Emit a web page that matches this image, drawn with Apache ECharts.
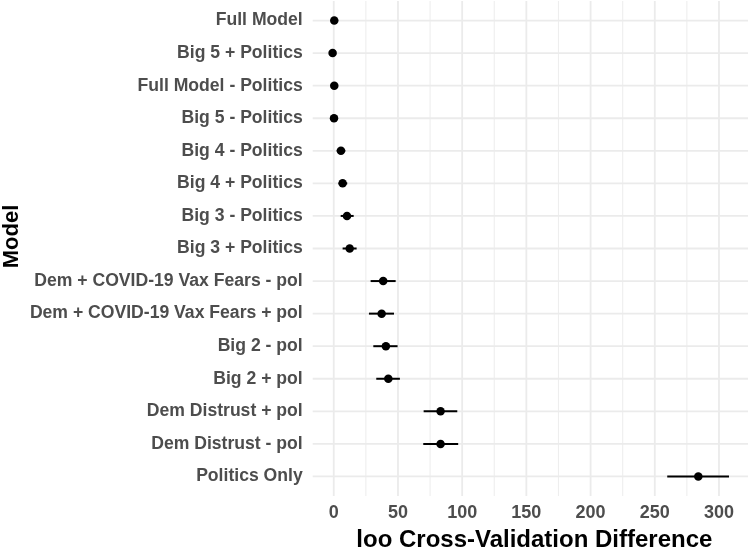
<!DOCTYPE html>
<html>
<head>
<meta charset="utf-8">
<script src="https://cdn.jsdelivr.net/npm/echarts@6/dist/echarts.min.js"></script>
<style>
html,body{margin:0;padding:0;background:#fff;}
#chart{width:750px;height:548px;}
</style>
</head>
<body>
<div id="chart"></div>
<script>
const categories = [
  "Full Model",
  "Big 5 + Politics",
  "Full Model - Politics",
  "Big 5 - Politics",
  "Big 4 - Politics",
  "Big 4 + Politics",
  "Big 3 - Politics",
  "Big 3 + Politics",
  "Dem + COVID-19 Vax Fears - pol",
  "Dem + COVID-19 Vax Fears + pol",
  "Big 2 - pol",
  "Big 2 + pol",
  "Dem Distrust + pol",
  "Dem Distrust - pol",
  "Politics Only"
];
const estimates = [0.4, -0.9, 0.4, 0.2, 5.6, 6.9, 10.3, 12.4, 38.5, 37.3, 40.6, 42.5, 83.2, 83.2, 283.9];
const lower     = [-1.5, -2.8, -1.6, -1.8, 2.3, 3.8, 5.4, 6.9, 28.7, 27.4, 30.8, 33.1, 70.0, 69.7, 259.7];
const upper     = [2.3, 1.0, 2.4, 2.2, 9.0, 10.5, 15.5, 17.8, 48.2, 46.9, 49.7, 51.5, 96.2, 96.9, 307.8];
const xTicks = [0, 50, 100, 150, 200, 250, 300];
const xMinorTicks = [25, 75, 125, 175, 225, 275];

const rowIndex = categories.map((c, i) => i + 1);
const font = "'Liberation Sans', Arial, sans-serif";

// grid line items: [kind, value, isMajor]
const gridItems = [
  ...xMinorTicks.map(v => ['x', v, 0]),
  ...xTicks.map(v => ['x', v, 1]),
  ...rowIndex.map(v => ['y', v, 1])
];

const chart = echarts.init(document.getElementById('chart'), null, {renderer: 'canvas'});
chart.setOption({
  animation: false,
  backgroundColor: '#ffffff',
  grid: {left: 312.7, right: 2, top: 1, bottom: 52, containLabel: false, outerBoundsMode: 'none'},
  xAxis: {
    type: 'value',
    min: -16.4,
    max: 322.6,
    name: 'loo Cross-Validation Difference',
    nameLocation: 'middle',
    nameGap: 32,
    nameMoveOverlap: false,
    nameTextStyle: {color: '#000', fontSize: 24, fontWeight: 'bold', fontFamily: font, padding: [0, 0, 0, 8]},
    axisLine: {show: false},
    axisTick: {show: false, customValues: xTicks},
    splitLine: {show: false},
    axisLabel: {
      customValues: xTicks,
      color: '#4d4d4d', fontSize: 18, fontWeight: 'bold', fontFamily: font, margin: 8
    }
  },
  yAxis: {
    type: 'value',
    inverse: true,
    min: 0.4,
    max: 15.6,
    name: 'Model',
    nameLocation: 'middle',
    nameRotate: 90,
    nameGap: 290,
    nameMoveOverlap: false,
    nameTextStyle: {color: '#000', fontSize: 22, fontWeight: 'bold', fontFamily: font, padding: [0, 0, 0, 24]},
    axisLine: {show: false},
    axisTick: {show: false, customValues: rowIndex},
    splitLine: {show: false},
    axisLabel: {
      customValues: rowIndex,
      formatter: v => categories[Math.round(v) - 1] || '',
      color: '#4d4d4d', fontSize: 17.6, fontWeight: 'bold', fontFamily: font, margin: 10
    }
  },
  series: [
    {
      type: 'custom',
      z: 0,
      silent: true,
      data: gridItems.map((g, i) => [i]),
      encode: {x: 0},
      renderItem: function (params, api) {
        const g = gridItems[params.dataIndex];
        const cs = params.coordSys;
        let x1, y1, x2, y2;
        if (g[0] === 'x') {
          const p = api.coord([g[1], 1]);
          x1 = x2 = p[0]; y1 = cs.y; y2 = cs.y + cs.height;
        } else {
          const p = api.coord([0, g[1]]);
          y1 = y2 = p[1]; x1 = cs.x; x2 = cs.x + cs.width;
        }
        return {
          type: 'line',
          silent: true,
          shape: {x1: x1, y1: y1, x2: x2, y2: y2},
          style: {stroke: g[2] ? '#ebebeb' : '#eeeeee', lineWidth: g[2] ? 1.8 : 1.1}
        };
      }
    },
    {
      type: 'custom',
      z: 2,
      data: categories.map((c, i) => [lower[i], upper[i], rowIndex[i]]),
      encode: {x: [0, 1], y: 2},
      renderItem: function (params, api) {
        const p1 = api.coord([api.value(0), api.value(2)]);
        const p2 = api.coord([api.value(1), api.value(2)]);
        return {
          type: 'line',
          shape: {x1: p1[0], y1: p1[1], x2: p2[0], y2: p2[1]},
          style: {stroke: '#000', lineWidth: 2}
        };
      }
    },
    {
      type: 'scatter',
      z: 3,
      symbol: 'circle',
      symbolSize: 8.5,
      itemStyle: {color: '#000', opacity: 1},
      data: categories.map((c, i) => [estimates[i], rowIndex[i]])
    }
  ]
});
</script>
</body>
</html>
